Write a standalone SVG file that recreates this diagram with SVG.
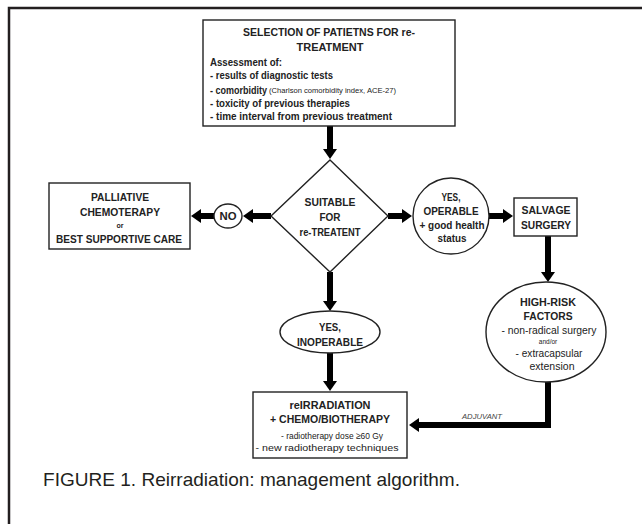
<svg xmlns="http://www.w3.org/2000/svg" width="642" height="524" viewBox="0 0 642 524">
<defs>
<style>
.shape{fill:#fff;stroke:#222;stroke-width:1.4}
.t{font-family:"Liberation Sans",Arial,sans-serif;font-weight:bold;font-size:11px;fill:#222;text-anchor:middle}
.l{text-anchor:start}
.n{font-weight:normal}
.s{font-size:9.5px}
.xs{font-size:6.5px;font-weight:normal}
.conn{fill:none;stroke:#000;stroke-width:6}
</style>
<marker id="ah" viewBox="0 0 10 14" refX="1" refY="7" markerWidth="10" markerHeight="14" markerUnits="userSpaceOnUse" orient="auto">
<path d="M0,0 L10,7 L0,14 Z" fill="#000"/>
</marker>
</defs>
<rect width="642" height="524" fill="#fff"/>
<path d="M9,524 V8 H642" fill="none" stroke="#231f20" stroke-width="2.5"/>

<g id="connectors">
<path class="conn" d="M330,126 V150" marker-end="url(#ah)"/>
<path class="conn" d="M271,216 H252" marker-end="url(#ah)"/>
<path class="conn" d="M214,216 H200" marker-end="url(#ah)"/>
<path class="conn" d="M388,216 H403" marker-end="url(#ah)"/>
<path class="conn" d="M489,216 H504" marker-end="url(#ah)"/>
<path class="conn" d="M548,236 V273" marker-end="url(#ah)"/>
<path class="conn" d="M330,272 V302" marker-end="url(#ah)"/>
<path class="conn" d="M330,353 V382" marker-end="url(#ah)"/>
<path class="conn" d="M548,382 V425 H418" marker-end="url(#ah)"/>
<text class="t n" x="482" y="419" style="font-style:italic;font-size:8px;fill:#444" textLength="40" lengthAdjust="spacingAndGlyphs">ADJUVANT</text>
</g>

<g id="selection">
<rect class="shape" x="203" y="20" width="252" height="106"/>
<text class="t" x="329" y="36" textLength="172" lengthAdjust="spacingAndGlyphs">SELECTION OF PATIETNS FOR re-</text>
<text class="t" x="330" y="51" textLength="67" lengthAdjust="spacingAndGlyphs">TREATMENT</text>
<text class="t l" x="210" y="66" textLength="72" lengthAdjust="spacingAndGlyphs">Assessment of:</text>
<text class="t l" x="210" y="79" textLength="123" lengthAdjust="spacingAndGlyphs">- results of diagnostic tests</text>
<text class="t l" x="210" y="94" textLength="57" lengthAdjust="spacingAndGlyphs">- comorbidity</text>
<text class="t l xs" x="269" y="93" textLength="127" lengthAdjust="spacingAndGlyphs">(Charlson comorbidity index, ACE-27)</text>
<text class="t l" x="210" y="107" textLength="140" lengthAdjust="spacingAndGlyphs">- toxicity of previous therapies</text>
<text class="t l" x="210" y="120" textLength="182" lengthAdjust="spacingAndGlyphs">- time interval from previous treatment</text>
</g>

<g id="suitable">
<path class="shape" d="M330,160 L388,216 L330,272 L271,216 Z"/>
<text class="t" x="330" y="206" textLength="51" lengthAdjust="spacingAndGlyphs">SUITABLE</text>
<text class="t" x="330" y="221" textLength="21" lengthAdjust="spacingAndGlyphs">FOR</text>
<text class="t" x="330" y="236" textLength="61" lengthAdjust="spacingAndGlyphs">re-TREATENT</text>
</g>

<g id="no">
<ellipse class="shape" cx="228" cy="216" rx="14" ry="12"/>
<text class="t" x="228" y="220" textLength="17" lengthAdjust="spacingAndGlyphs">NO</text>
</g>

<g id="palliative">
<rect class="shape" x="49" y="183" width="141" height="66"/>
<text class="t" x="120" y="201" textLength="58" lengthAdjust="spacingAndGlyphs">PALLIATIVE</text>
<text class="t" x="120" y="216" textLength="80" lengthAdjust="spacingAndGlyphs">CHEMOTERAPY</text>
<text class="t" x="120" y="228" style="font-size:7px">or</text>
<text class="t" x="119" y="243" textLength="126" lengthAdjust="spacingAndGlyphs">BEST SUPPORTIVE CARE</text>
</g>

<g id="operable">
<ellipse class="shape" cx="451" cy="216" rx="38" ry="38"/>
<text class="t" x="451" y="201" textLength="19" lengthAdjust="spacingAndGlyphs">YES,</text>
<text class="t" x="451" y="215" textLength="55" lengthAdjust="spacingAndGlyphs">OPERABLE</text>
<text class="t" x="452" y="229" textLength="65" lengthAdjust="spacingAndGlyphs">+ good health</text>
<text class="t" x="452" y="242" textLength="29" lengthAdjust="spacingAndGlyphs">status</text>
</g>

<g id="salvage">
<rect class="shape" x="514" y="198" width="63" height="38"/>
<text class="t" x="546" y="214" textLength="49" lengthAdjust="spacingAndGlyphs">SALVAGE</text>
<text class="t" x="546" y="229" textLength="50" lengthAdjust="spacingAndGlyphs">SURGERY</text>
</g>

<g id="highrisk">
<ellipse class="shape" cx="546" cy="332" rx="60" ry="50"/>
<text class="t" x="548" y="306" textLength="56" lengthAdjust="spacingAndGlyphs">HIGH-RISK</text>
<text class="t" x="548" y="320" textLength="49" lengthAdjust="spacingAndGlyphs">FACTORS</text>
<text class="t n" x="549" y="334" textLength="95" lengthAdjust="spacingAndGlyphs">- non-radical surgery</text>
<text class="t xs" x="548" y="344">and/or</text>
<text class="t n" x="549" y="357" textLength="67" lengthAdjust="spacingAndGlyphs">- extracapsular</text>
<text class="t n" x="552" y="370" textLength="45" lengthAdjust="spacingAndGlyphs">extension</text>
</g>

<g id="inoperable">
<ellipse class="shape" cx="330" cy="332" rx="50" ry="21"/>
<text class="t" x="330" y="331" textLength="22" lengthAdjust="spacingAndGlyphs">YES,</text>
<text class="t" x="330" y="346" textLength="66" lengthAdjust="spacingAndGlyphs">INOPERABLE</text>
</g>

<g id="reirradiation">
<rect class="shape" x="253" y="392" width="154" height="66"/>
<text class="t" x="330" y="409" textLength="81" lengthAdjust="spacingAndGlyphs">reIRRADIATION</text>
<text class="t" x="330" y="423" textLength="120" lengthAdjust="spacingAndGlyphs">+ CHEMO/BIOTHERAPY</text>
<text class="t n s" x="332" y="439" textLength="102" lengthAdjust="spacingAndGlyphs">- radiotherapy dose ≥60 Gy</text>
<text class="t n s" x="327" y="451" textLength="143" lengthAdjust="spacingAndGlyphs">- new radiotherapy techniques</text>
</g>

<text x="43" y="486" style="font-family:'Liberation Sans',Arial,sans-serif;font-size:19px;fill:#231f20" textLength="417" lengthAdjust="spacingAndGlyphs">FIGURE 1. Reirradiation: management algorithm.</text>
</svg>
